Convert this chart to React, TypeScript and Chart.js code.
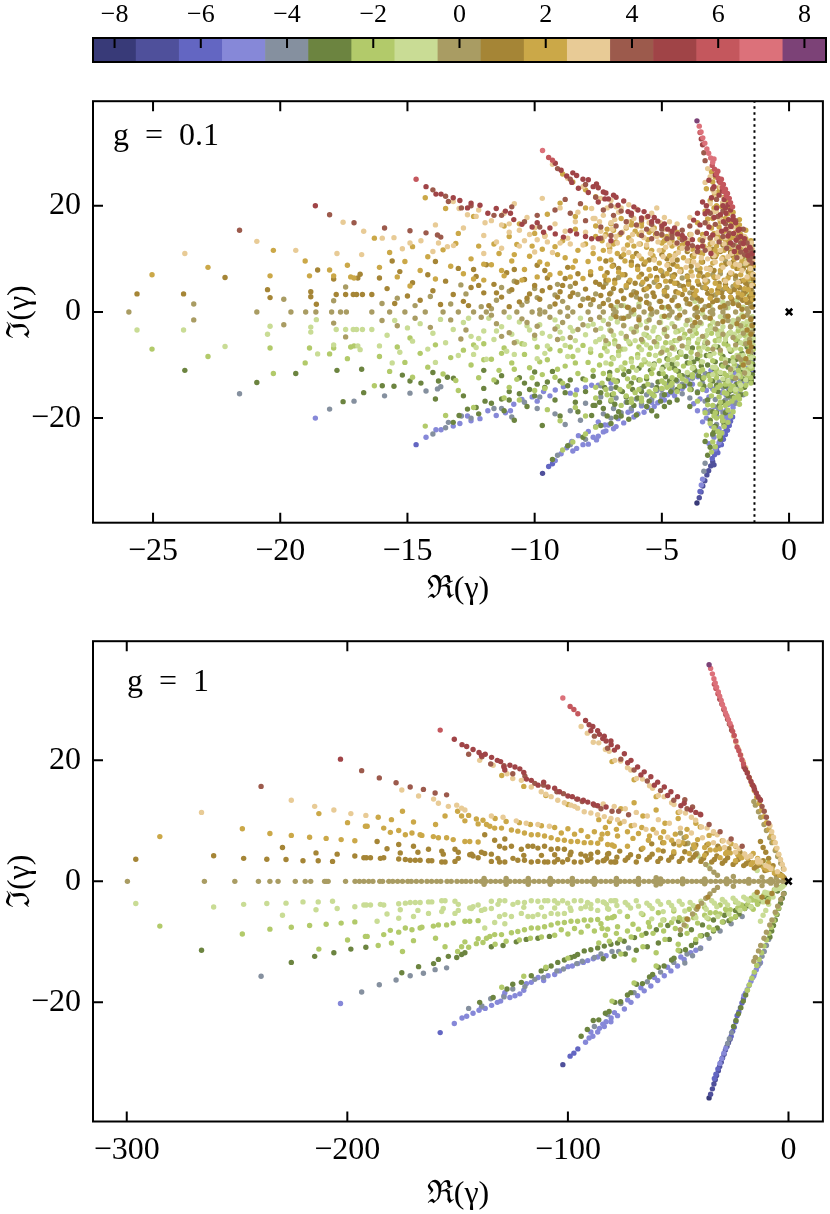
import { useEffect, useRef } from "react";
import { Chart, registerables } from "chart.js";

Chart.register(...registerables);

// ---------- colour scale (sector k) ----------
const kValues = [-8, -7, -6, -5, -4, -3, -2, -1, 0, 1, 2, 3, 4, 5, 6, 7, 8];
const kColors = ["#383a78", "#4f509b", "#6366c2", "#8688d8", "#85909f", "#6c8440", "#b2ca6a", "#c9dc95", "#a99c63", "#a58536", "#cba848", "#e8cb96", "#9c5a4c", "#a04447", "#c4575d", "#dc717a", "#7c4277"];
const colorbarTicks = [-8, -6, -4, -2, 0, 2, 4, 6, 8];
const topXTicks = [-25, -20, -15, -10, -5, 0];
const bottomXTicks = [-300, -200, -100, 0];
const yTicks = [-20, 0, 20];
const topXRange = [-27.36, 1.33];
const bottomXRange = [-315.3, 15.6];
const yRange = [-39.7, 39.7];
const topGapLine = -1.36;
const steadyState = [0, 0];
const topLabel = "g\u2002=\u20020.1";
const bottomLabel = "g\u2002=\u20021";

// ---------- g = 0.1 spectrum, [Re, Im] pairs per sector ----------
const topK0 = [-25.95,0,-23.4,1.5,-23.4,-1.5,-20.92,0,-19.86,2.4,-19.86,-2.4,-19.58,0,-19.0,0,-18.6,0,-17.98,0,-17.63,0,-17.4,0,-17.9,2.1,-17.9,-2.1,-17.43,4.7,-17.43,-4.7,
-16.4,0,-15.7,0,-15.1,0,-14.3,0,-13.6,0,-13.0,0,-12.4,0,-11.9,0,-11.2,0,-10.7,0,-10.1,0,-9.6,0,-9.0,0,-8.5,0,-7.9,0,
-16.0,1.6,-16.0,-1.6,-15.4,2.6,-15.4,-2.6,-14.7,1.2,-14.7,-1.2,-14.1,2.9,-14.1,-2.9,-13.3,1.5,-13.3,-1.5,-12.7,3.4,-12.7,-3.4,-12.1,1.0,-12.1,-1.0,-11.5,2.2,-11.5,-2.2,-11.0,3.9,-11.0,-3.9,-10.5,1.3,-10.5,-1.3,-9.9,2.7,-9.9,-2.7,-9.4,1.0,-9.4,-1.0,-8.9,2.0,-8.9,-2.0,-8.3,3.3,-8.3,-3.3,-7.8,1.4,-7.8,-1.4,-12.9,5.1,-12.9,-5.1,-10.8,5.8,-10.8,-5.8,-9.1,5.2,-9.1,-5.2,
-7.3,0,-6.8,0,-6.2,0,-5.7,0,-5.2,0,-4.6,0,-4.1,0,-3.6,0,-3.1,0,-2.6,0,-2.1,0,-1.6,0,
-7.1,2.3,-7.1,-2.3,-6.6,1.2,-6.6,-1.2,-6.4,4.6,-6.4,-4.6,-6.0,2.8,-6.0,-2.8,-5.5,1.5,-5.5,-1.5,-5.3,5.6,-5.3,-5.6,-4.9,3.3,-4.9,-3.3,-4.4,1.1,-4.4,-1.1,-4.2,6.4,-4.2,-6.4,-3.8,2.6,-3.8,-2.6,-3.4,4.6,-3.4,-4.6,-3.3,1.0,-3.3,-1.0,-2.9,3.2,-2.9,-3.2,-2.7,7.2,-2.7,-7.2,-2.4,1.6,-2.4,-1.6,-2.2,4.8,-2.2,-4.8,-1.9,2.6,-1.9,-2.6,-1.7,6.0,-1.7,-6.0,-1.5,1.2,-1.5,-1.2,-1.45,3.8,-1.45,-3.8,-2.0,8.5,-2.0,-8.5,-3.6,8.0,-3.6,-8.0,-5.0,7.6,-5.0,-7.6,-6.7,6.5,-6.7,-6.5,-1.6,9.5,-1.6,-9.5,-2.3,10.8,-2.3,-10.8];
const topK0x = [-7.45,1.0,-7.45,-1.0,-7.0,3.6,-7.0,-3.6,-6.9,0.5,-6.9,-0.5,-6.5,2.6,-6.5,-2.6,-6.3,0.8,-6.3,-0.8,-6.1,3.8,-6.1,-3.8,-5.9,1.0,-5.9,-1.0,-5.6,3.0,-5.6,-3.0,-5.4,0.4,-5.4,-0.4,-5.1,2.0,-5.1,-2.0,-4.8,4.6,-4.8,-4.6,-4.7,0.6,-4.7,-0.6,-4.5,2.8,-4.5,-2.8,-4.3,5.0,-4.3,-5.0,-4.0,1.6,-4.0,-1.6,-3.9,3.6,-3.9,-3.6,-3.7,0.6,-3.7,-0.6,-3.5,2.0,-3.5,-2.0,-3.2,5.8,-3.2,-5.8,-3.0,0.4,-3.0,-0.4,-2.8,2.2,-2.8,-2.2,-2.6,4.2,-2.6,-4.2,-2.5,0.8,-2.5,-0.8,-2.3,2.8,-2.3,-2.8,-2.1,6.2,-2.1,-6.2,-2.0,1.4,-2.0,-1.4,-1.8,4.0,-1.8,-4.0,-1.65,0.6,-1.65,-0.6,-1.55,5.2,-1.55,-5.2,-1.45,2.4,-1.45,-2.4,-1.5,7.5,-1.5,-7.5,-1.9,9.0,-1.9,-9.0,-2.5,9.6,-2.5,-9.6,-3.0,7.0,-3.0,-7.0,-4.6,6.8,-4.6,-6.8,-5.8,5.2,-5.8,-5.2,-7.2,5.4,-7.2,-5.4,-1.75,11.5,-1.75,-11.5,-2.1,12.5,-2.1,-12.5,
-11.7,0.6,-11.7,-0.6,-10.3,2.0,-10.3,-2.0,-9.8,0.4,-9.8,-0.4,-9.2,3.2,-9.2,-3.2,-8.7,0.8,-8.7,-0.8,-8.1,2.4,-8.1,-2.4,-7.6,3.4,-7.6,-3.4,-10.0,4.4,-10.0,-4.4,-8.6,4.8,-8.6,-4.8,-11.3,4.6,-11.3,-4.6];

const topK1 = [-25.63,3.4,-23.8,3.4,-22.17,6.5,-20.5,4.2,-20.4,2.7,-18.53,7.9,-18.8,3.8,-18.8,2.85,-18.58,1.45,-17.9,6.2,-17.8,3.3,-17.43,3.3,-17.13,3.3,-17.0,3.3,-16.77,3.3,-16.95,6.4,-16.86,7.1,
-16.4,3.3,-16.1,6.4,-15.8,4.4,-15.5,1.6,-15.3,7.6,-15.0,3.0,-14.8,5.5,-14.5,2.2,-14.2,7.0,-14.0,4.0,-13.7,1.4,-13.5,5.8,-13.2,3.3,-13.0,8.2,-12.8,2.0,-12.5,4.6,-12.3,6.7,-12.0,3.6,-11.8,1.2,-11.6,5.2,-11.3,2.8,-11.1,7.4,-10.9,4.2,-10.6,1.9,-10.4,6.1,-10.2,3.4,-10.0,5.0,-9.8,2.4,-9.6,7.8,-9.4,4.6,-9.2,1.5,-9.0,3.8,-8.8,6.3,-8.6,2.9,-8.4,5.4,-8.2,1.2,-8.0,4.3,-7.8,7.0,-7.7,2.3,-9.9,8.8,-11.9,8.9,-13.9,9.5,-15.6,9.6,
-7.4,3.1,-7.2,6.0,-7.0,1.2,-6.9,4.4,-6.7,8.2,-6.5,2.5,-6.3,5.6,-6.1,0.4,-6.0,3.6,-5.8,7.1,-5.6,1.8,-5.5,4.8,-5.3,2.9,-5.2,6.5,-5.0,0.9,-4.9,4.0,-4.7,8.0,-4.6,2.2,-4.4,5.4,-4.3,-0.6,-4.2,3.3,-4.0,6.8,-3.9,1.5,-3.8,4.5,-3.6,2.6,-3.5,7.4,-3.4,0.4,-3.3,5.6,-3.2,3.5,-3.1,-1.2,-3.0,1.9,-2.9,6.4,-2.8,4.2,-2.7,0.9,-2.6,2.8,-2.5,5.2,-2.4,-0.8,-2.3,3.8,-2.2,1.6,-2.1,6.8,-2.0,2.8,-1.95,4.6,-1.85,0.5,-1.8,3.4,-1.7,5.4,-1.65,1.8,-1.55,2.9,-1.5,4.3,-1.45,0.9,-1.42,6.2,-1.5,-1.4,-1.6,7.6,-5.9,-1.5,-6.8,-0.9,-3.7,-2.0,-2.05,-2.2,-7.3,4.7,-4.5,7.0,-3.1,8.3,-5.7,9.0,-2.0,12.0,-1.8,10.5,-2.3,11.3,-2.6,12.6];
const topKm1 = [-25.63,-3.4,-23.8,-3.4,-22.17,-6.5,-20.5,-4.2,-20.4,-2.7,-18.53,-7.9,-18.8,-3.8,-18.8,-2.85,-18.58,-1.45,-17.9,-6.2,-17.8,-3.3,-17.43,-3.3,-17.13,-3.3,-17.0,-3.3,-16.77,-3.3,-16.95,-6.4,-16.86,-7.1,
-16.4,-3.3,-16.1,-6.4,-15.8,-4.4,-15.5,-1.6,-15.3,-7.6,-15.0,-3.0,-14.8,-5.5,-14.5,-2.2,-14.2,-7.0,-14.0,-4.0,-13.7,-1.4,-13.5,-5.8,-13.2,-3.3,-13.0,-8.2,-12.8,-2.0,-12.5,-4.6,-12.3,-6.7,-12.0,-3.6,-11.8,-1.2,-11.6,-5.2,-11.3,-2.8,-11.1,-7.4,-10.9,-4.2,-10.6,-1.9,-10.4,-6.1,-10.2,-3.4,-10.0,-5.0,-9.8,-2.4,-9.6,-7.8,-9.4,-4.6,-9.2,-1.5,-9.0,-3.8,-8.8,-6.3,-8.6,-2.9,-8.4,-5.4,-8.2,-1.2,-8.0,-4.3,-7.8,-7.0,-7.7,-2.3,-9.9,-8.8,-11.9,-8.9,-13.9,-9.5,-15.6,-9.6,
-7.4,-3.1,-7.2,-6.0,-7.0,-1.2,-6.9,-4.4,-6.7,-8.2,-6.5,-2.5,-6.3,-5.6,-6.1,-0.4,-6.0,-3.6,-5.8,-7.1,-5.6,-1.8,-5.5,-4.8,-5.3,-2.9,-5.2,-6.5,-5.0,-0.9,-4.9,-4.0,-4.7,-8.0,-4.6,-2.2,-4.4,-5.4,-4.3,0.6,-4.2,-3.3,-4.0,-6.8,-3.9,-1.5,-3.8,-4.5,-3.6,-2.6,-3.5,-7.4,-3.4,-0.4,-3.3,-5.6,-3.2,-3.5,-3.1,1.2,-3.0,-1.9,-2.9,-6.4,-2.8,-4.2,-2.7,-0.9,-2.6,-2.8,-2.5,-5.2,-2.4,0.8,-2.3,-3.8,-2.2,-1.6,-2.1,-6.8,-2.0,-2.8,-1.95,-4.6,-1.85,-0.5,-1.8,-3.4,-1.7,-5.4,-1.65,-1.8,-1.55,-2.9,-1.5,-4.3,-1.45,-0.9,-1.42,-6.2,-1.5,1.4,-1.6,-7.6,-5.9,1.5,-6.8,0.9,-3.7,2.0,-2.05,2.2,-7.3,-4.7,-4.5,-7.0,-3.1,-8.3,-5.7,-9.0,-2.0,-12.0,-1.8,-10.5,-2.3,-11.3,-2.6,-12.6];
const topK1x = [-7.45,5.2,-7.3,1.6,-7.15,7.4,-7.05,3.4,-6.85,6.0,-6.75,1.9,-6.6,4.0,-6.45,7.0,-6.35,0.9,-6.2,3.2,-6.05,5.4,-5.95,8.6,-5.85,2.4,-5.7,4.2,-5.6,6.2,-5.45,0.6,-5.35,3.6,-5.25,8.2,-5.1,5.0,-5.05,2.0,-4.95,6.8,-4.8,3.0,-4.75,1.0,-4.65,5.8,-4.55,9.0,-4.45,3.8,-4.35,1.2,-4.25,7.6,-4.15,4.8,-4.05,2.4,-3.95,5.8,-3.85,8.6,-3.75,3.4,-3.65,0.8,-3.55,5.2,-3.45,2.2,-3.35,6.6,-3.25,4.4,-3.15,1.2,-3.05,3.0,-2.95,7.8,-2.85,2.2,-2.75,5.4,-2.65,3.6,-2.55,1.2,-2.45,4.4,-2.35,7.0,-2.25,2.4,-2.15,4.2,-2.05,8.2,-1.98,1.2,-1.9,5.8,-1.82,2.2,-1.72,3.8,-1.62,8.8,-1.58,4.8,-1.52,2.0,-1.46,6.8,-1.43,3.2,-1.41,5.0,-3.6,-1.0,-4.9,-0.8,-2.6,-1.8,-1.8,-0.9,-6.5,-1.2,-5.3,10.0,-3.8,10.6,-2.9,10.4,-1.6,9.8,
-12.6,1.2,-12.2,5.0,-11.5,3.6,-11.0,1.0,-10.7,5.6,-10.3,2.6,-9.7,4.0,-9.5,6.4,-9.1,2.8,-8.9,5.0,-8.5,3.6,-8.3,7.2,-7.9,2.6,-7.6,5.6,-8.7,8.4,-10.8,8.0,-12.4,8.0,
-7.2,9.6,-6.6,10.4,-6.0,11.0,-5.5,9.8,-5.0,10.8,-4.4,9.8,-4.0,11.4,-3.4,9.4,-3.0,11.8,-2.5,9.0,-2.2,10.6,-1.7,11.2,-1.45,8.6,-6.9,8.8,-6.2,9.4,-4.8,10.0,-1.45,-2.6,-1.5,-4.2,-1.55,-5.8,-1.6,-7.4,-1.7,-8.8,-1.8,-10.0,-1.48,-6.6,-1.65,-3.4,
-1.5,10.2,-1.7,12.8,-1.9,13.8,-2.1,14.6,-1.6,11.6,-2.4,13.0,-2.7,11.4,-3.0,10.4,-2.2,9.4,-1.8,8.2];
const topKm1x = [-7.45,-5.2,-7.3,-1.6,-7.15,-7.4,-7.05,-3.4,-6.85,-6.0,-6.75,-1.9,-6.6,-4.0,-6.45,-7.0,-6.35,-0.9,-6.2,-3.2,-6.05,-5.4,-5.95,-8.6,-5.85,-2.4,-5.7,-4.2,-5.6,-6.2,-5.45,-0.6,-5.35,-3.6,-5.25,-8.2,-5.1,-5.0,-5.05,-2.0,-4.95,-6.8,-4.8,-3.0,-4.75,-1.0,-4.65,-5.8,-4.55,-9.0,-4.45,-3.8,-4.35,-1.2,-4.25,-7.6,-4.15,-4.8,-4.05,-2.4,-3.95,-5.8,-3.85,-8.6,-3.75,-3.4,-3.65,-0.8,-3.55,-5.2,-3.45,-2.2,-3.35,-6.6,-3.25,-4.4,-3.15,-1.2,-3.05,-3.0,-2.95,-7.8,-2.85,-2.2,-2.75,-5.4,-2.65,-3.6,-2.55,-1.2,-2.45,-4.4,-2.35,-7.0,-2.25,-2.4,-2.15,-4.2,-2.05,-8.2,-1.98,-1.2,-1.9,-5.8,-1.82,-2.2,-1.72,-3.8,-1.62,-8.8,-1.58,-4.8,-1.52,-2.0,-1.46,-6.8,-1.43,-3.2,-1.41,-5.0,-3.6,1.0,-4.9,0.8,-2.6,1.8,-1.8,0.9,-6.5,1.2,-5.3,-10.0,-3.8,-10.6,-2.9,-10.4,-1.6,-9.8,
-12.6,-1.2,-12.2,-5.0,-11.5,-3.6,-11.0,-1.0,-10.7,-5.6,-10.3,-2.6,-9.7,-4.0,-9.5,-6.4,-9.1,-2.8,-8.9,-5.0,-8.5,-3.6,-8.3,-7.2,-7.9,-2.6,-7.6,-5.6,-8.7,-8.4,-10.8,-8.0,-12.4,-8.0,
-7.2,-9.6,-6.6,-10.4,-6.0,-11.0,-5.5,-9.8,-5.0,-10.8,-4.4,-9.8,-4.0,-11.4,-3.4,-9.4,-3.0,-11.8,-2.5,-9.0,-2.2,-10.6,-1.7,-11.2,-1.45,-8.6,-6.9,-8.8,-6.2,-9.4,-4.8,-10.0,-1.45,2.6,-1.5,4.2,-1.55,5.8,-1.6,7.4,-1.7,8.8,-1.8,10.0,-1.48,6.6,-1.65,3.4,
-1.5,-10.2,-1.7,-12.8,-1.9,-13.8,-2.1,-14.6,-1.6,-11.6,-2.4,-13.0,-2.7,-11.4,-3.0,-10.4,-2.2,-9.4,-1.8,-8.2];

const topK2 = [-25.04,7.0,-22.84,8.4,-20.27,11.6,-20.4,6.8,-19.02,9.6,-18.85,6.8,-18.06,7.9,-17.9,6.8,-17.36,8.8,-17.23,6.6,-17.1,6.4,
-16.3,13.9,-16.1,8.4,-15.7,11.2,-15.4,6.6,-15.1,9.5,-14.8,12.3,-14.5,7.8,-14.2,10.4,-13.9,6.2,-13.6,11.7,-13.3,8.6,-13.1,12.9,-12.8,7.2,-12.5,10.0,-12.2,12.4,-12.0,6.0,-11.7,8.9,-11.4,11.0,-11.2,6.8,-10.9,9.6,-10.7,12.7,-10.4,8.0,-10.2,10.5,-9.9,6.6,-9.7,11.8,-9.5,9.0,-9.2,12.3,-9.0,7.3,-8.8,10.2,-8.5,8.4,-8.3,11.6,-8.1,6.3,-7.9,9.5,-7.7,11.0,-11.0,14.2,-13.0,14.8,-14.9,4.9,
-7.4,8.2,-7.3,11.6,-7.1,6.0,-7.0,9.8,-6.8,13.2,-6.7,7.5,-6.5,10.8,-6.4,5.0,-6.2,8.8,-6.1,12.4,-5.9,6.6,-5.8,10.0,-5.6,4.4,-5.5,8.0,-5.4,11.6,-5.2,6.0,-5.1,9.2,-4.9,3.8,-4.8,7.2,-4.7,10.6,-4.5,5.4,-4.4,8.6,-4.3,12.0,-4.1,4.2,-4.0,6.6,-3.9,9.6,-3.7,3.2,-3.6,5.8,-3.5,8.2,-3.4,10.9,-3.3,4.6,-3.2,7.0,-3.1,2.6,-3.0,9.2,-2.9,5.4,-2.8,3.6,-2.7,7.8,-2.6,10.2,-2.5,4.6,-2.4,6.4,-2.3,2.8,-2.2,8.6,-2.1,5.2,-2.0,3.6,-1.9,7.0,-1.85,9.6,-1.75,4.4,-1.7,2.4,-1.6,6.2,-1.55,8.0,-1.48,3.4,-1.44,5.2,-1.42,7.1,-7.2,14.6,-6.3,14.0,-5.0,13.0,-3.8,12.2,-2.9,11.6,-2.0,11.0,-1.5,9.6,
-3.0,24.5,-2.8,22.5,-2.6,20.5,-2.4,18.5,-2.25,16.8,-2.1,15.0,-1.95,13.4,-3.1,21.0,-2.9,19.0,-2.7,17.0,-2.55,15.2,-2.35,13.6,-3.2,17.5,-2.95,14.8,
-7.6,16.2,-6.9,15.4,-8.4,18.0,-9.0,20.5,-8.0,19.6,-6.2,16.4,-5.5,15.0,-4.8,14.2,
-13.5,19.5,-12.4,18.0,-11.2,16.2,-10.0,14.8,-14.3,21.5,
-8.9,26.0,-8.5,24.5,-8.0,23.0,-7.6,21.7];
const topKm2 = [-25.04,-7.0,-22.84,-8.4,-20.27,-11.6,-20.4,-6.8,-19.02,-9.6,-18.85,-6.8,-18.06,-7.9,-17.9,-6.8,-17.36,-8.8,-17.23,-6.6,-17.1,-6.4,
-16.3,-13.9,-16.1,-8.4,-15.7,-11.2,-15.4,-6.6,-15.1,-9.5,-14.8,-12.3,-14.5,-7.8,-14.2,-10.4,-13.9,-6.2,-13.6,-11.7,-13.3,-8.6,-13.1,-12.9,-12.8,-7.2,-12.5,-10.0,-12.2,-12.4,-12.0,-6.0,-11.7,-8.9,-11.4,-11.0,-11.2,-6.8,-10.9,-9.6,-10.7,-12.7,-10.4,-8.0,-10.2,-10.5,-9.9,-6.6,-9.7,-11.8,-9.5,-9.0,-9.2,-12.3,-9.0,-7.3,-8.8,-10.2,-8.5,-8.4,-8.3,-11.6,-8.1,-6.3,-7.9,-9.5,-7.7,-11.0,-11.0,-14.2,-13.0,-14.8,-14.9,-4.9,
-7.4,-8.2,-7.3,-11.6,-7.1,-6.0,-7.0,-9.8,-6.8,-13.2,-6.7,-7.5,-6.5,-10.8,-6.4,-5.0,-6.2,-8.8,-6.1,-12.4,-5.9,-6.6,-5.8,-10.0,-5.6,-4.4,-5.5,-8.0,-5.4,-11.6,-5.2,-6.0,-5.1,-9.2,-4.9,-3.8,-4.8,-7.2,-4.7,-10.6,-4.5,-5.4,-4.4,-8.6,-4.3,-12.0,-4.1,-4.2,-4.0,-6.6,-3.9,-9.6,-3.7,-3.2,-3.6,-5.8,-3.5,-8.2,-3.4,-10.9,-3.3,-4.6,-3.2,-7.0,-3.1,-2.6,-3.0,-9.2,-2.9,-5.4,-2.8,-3.6,-2.7,-7.8,-2.6,-10.2,-2.5,-4.6,-2.4,-6.4,-2.3,-2.8,-2.2,-8.6,-2.1,-5.2,-2.0,-3.6,-1.9,-7.0,-1.85,-9.6,-1.75,-4.4,-1.7,-2.4,-1.6,-6.2,-1.55,-8.0,-1.48,-3.4,-1.44,-5.2,-1.42,-7.1,-7.2,-14.6,-6.3,-14.0,-5.0,-13.0,-3.8,-12.2,-2.9,-11.6,-2.0,-11.0,-1.5,-9.6,
-3.0,-24.5,-2.8,-22.5,-2.6,-20.5,-2.4,-18.5,-2.25,-16.8,-2.1,-15.0,-1.95,-13.4,-3.1,-21.0,-2.9,-19.0,-2.7,-17.0,-2.55,-15.2,-2.35,-13.6,-3.2,-17.5,-2.95,-14.8,
-7.6,-16.2,-6.9,-15.4,-8.4,-18.0,-9.0,-20.5,-8.0,-19.6,-6.2,-16.4,-5.5,-15.0,-4.8,-14.2,
-13.5,-19.5,-12.4,-18.0,-11.2,-16.2,-10.0,-14.8,-14.3,-21.5,
-8.9,-26.0,-8.5,-24.5,-8.0,-23.0,-7.6,-21.7];
const topK2x = [-7.45,10.0,-7.35,13.4,-7.25,6.8,-7.15,15.6,-7.05,12.0,-6.95,8.6,-6.85,5.4,-6.75,11.0,-6.65,14.6,-6.55,7.0,-6.45,9.6,-6.35,12.6,-6.25,6.0,-6.15,10.4,-6.05,15.2,-5.95,8.0,-5.85,12.8,-5.75,5.6,-5.65,9.4,-5.55,13.6,-5.45,6.8,-5.35,10.6,-5.25,14.6,-5.15,4.8,-5.05,7.8,-4.95,11.6,-4.85,5.8,-4.75,9.0,-4.65,13.8,-4.55,6.6,-4.45,11.0,-4.35,3.6,-4.25,8.0,-4.15,10.2,-4.05,13.0,-3.95,5.2,-3.85,7.6,-3.75,10.4,-3.65,4.0,-3.55,6.8,-3.45,9.4,-3.35,12.4,-3.25,5.6,-3.15,8.2,-3.05,4.0,-2.95,6.6,-2.85,10.8,-2.75,4.8,-2.65,8.8,-2.55,6.0,-2.45,12.0,-2.35,4.0,-2.25,7.2,-2.15,10.0,-2.05,5.0,-1.95,8.2,-1.85,3.2,-1.78,6.0,-1.68,9.2,-1.6,4.2,-1.52,7.0,-1.46,10.6,-1.43,2.4,-1.41,8.6,-1.5,12.4,-1.7,13.8,-1.95,16.4,-2.3,19.6,-2.65,22.8,-2.5,17.6,-2.85,20.0,-3.25,23.2,-4.4,15.0,-5.8,16.8,-6.6,17.6,
-12.4,6.2,-12.0,9.0,-11.6,12.8,-11.3,7.8,-10.8,10.8,-10.5,6.0,-10.1,12.4,-9.8,9.4,-9.4,7.0,-9.1,10.8,-8.9,13.4,-8.6,6.6,-8.4,9.6,-8.0,12.8,-7.8,7.6,-7.6,14.2,-9.6,14.4,-8.4,15.6,-10.6,16.6,-9.5,18.4,
-7.0,16.6,-6.4,15.8,-5.9,14.6,-5.3,15.8,-4.9,13.4,-4.3,14.0,-3.9,14.6,-3.5,13.6,-3.1,12.8,-2.7,13.8,-2.3,14.6,-1.9,12.2,-1.6,10.8,-4.6,12.4,-5.6,12.2,-6.9,12.8,-2.0,15.8,
-3.15,12.0,-2.85,12.4,-2.55,11.6,-2.25,12.2,-1.95,11.6,-1.65,12.0,-1.5,13.4,-3.1,13.8,-2.8,14.2,-2.5,13.6,-2.2,14.0,-1.9,14.6,-1.7,15.4,-3.05,15.8,-2.75,16.0,-2.45,15.4,-2.15,16.2,-1.95,17.4,-3.0,17.6,-2.7,18.0,-2.4,17.2,-2.2,18.8,-2.95,19.6,-2.65,19.8,-2.4,20.8,-2.55,21.6,-2.95,21.8,-2.75,23.4,-2.9,25.4,-3.05,26.4,-4.6,13.4,-4.2,12.6,-3.8,11.8,-3.5,11.2,-5.0,14.4,-5.4,15.4,-5.8,16.2,-6.2,17.0,-3.4,14.6,-3.6,16.8,-3.3,19.0];
const topKm2x = [-7.45,-10.0,-7.35,-13.4,-7.25,-6.8,-7.15,-15.6,-7.05,-12.0,-6.95,-8.6,-6.85,-5.4,-6.75,-11.0,-6.65,-14.6,-6.55,-7.0,-6.45,-9.6,-6.35,-12.6,-6.25,-6.0,-6.15,-10.4,-6.05,-15.2,-5.95,-8.0,-5.85,-12.8,-5.75,-5.6,-5.65,-9.4,-5.55,-13.6,-5.45,-6.8,-5.35,-10.6,-5.25,-14.6,-5.15,-4.8,-5.05,-7.8,-4.95,-11.6,-4.85,-5.8,-4.75,-9.0,-4.65,-13.8,-4.55,-6.6,-4.45,-11.0,-4.35,-3.6,-4.25,-8.0,-4.15,-10.2,-4.05,-13.0,-3.95,-5.2,-3.85,-7.6,-3.75,-10.4,-3.65,-4.0,-3.55,-6.8,-3.45,-9.4,-3.35,-12.4,-3.25,-5.6,-3.15,-8.2,-3.05,-4.0,-2.95,-6.6,-2.85,-10.8,-2.75,-4.8,-2.65,-8.8,-2.55,-6.0,-2.45,-12.0,-2.35,-4.0,-2.25,-7.2,-2.15,-10.0,-2.05,-5.0,-1.95,-8.2,-1.85,-3.2,-1.78,-6.0,-1.68,-9.2,-1.6,-4.2,-1.52,-7.0,-1.46,-10.6,-1.43,-2.4,-1.41,-8.6,-1.5,-12.4,-1.7,-13.8,-1.95,-16.4,-2.3,-19.6,-2.65,-22.8,-2.5,-17.6,-2.85,-20.0,-3.25,-23.2,-4.4,-15.0,-5.8,-16.8,-6.6,-17.6,
-12.4,-6.2,-12.0,-9.0,-11.6,-12.8,-11.3,-7.8,-10.8,-10.8,-10.5,-6.0,-10.1,-12.4,-9.8,-9.4,-9.4,-7.0,-9.1,-10.8,-8.9,-13.4,-8.6,-6.6,-8.4,-9.6,-8.0,-12.8,-7.8,-7.6,-7.6,-14.2,-9.6,-14.4,-8.4,-15.6,-10.6,-16.6,-9.5,-18.4,
-7.0,-16.6,-6.4,-15.8,-5.9,-14.6,-5.3,-15.8,-4.9,-13.4,-4.3,-14.0,-3.9,-14.6,-3.5,-13.6,-3.1,-12.8,-2.7,-13.8,-2.3,-14.6,-1.9,-12.2,-1.6,-10.8,-4.6,-12.4,-5.6,-12.2,-6.9,-12.8,-2.0,-15.8,
-3.15,-12.0,-2.85,-12.4,-2.55,-11.6,-2.25,-12.2,-1.95,-11.6,-1.65,-12.0,-1.5,-13.4,-3.1,-13.8,-2.8,-14.2,-2.5,-13.6,-2.2,-14.0,-1.9,-14.6,-1.7,-15.4,-3.05,-15.8,-2.75,-16.0,-2.45,-15.4,-2.15,-16.2,-1.95,-17.4,-3.0,-17.6,-2.7,-18.0,-2.4,-17.2,-2.2,-18.8,-2.95,-19.6,-2.65,-19.8,-2.4,-20.8,-2.55,-21.6,-2.95,-21.8,-2.75,-23.4,-2.9,-25.4,-3.05,-26.4,-4.6,-13.4,-4.2,-12.6,-3.8,-11.8,-3.5,-11.2,-5.0,-14.4,-5.4,-15.4,-5.8,-16.2,-6.2,-17.0,-3.4,-14.6,-3.6,-16.8,-3.3,-19.0];

const topK3 = [-23.75,11.0,-20.92,13.3,-19.39,11.6,-17.53,16.9,-16.72,15.2,-17.77,11.0,-16.8,10.8,
-15.99,13.9,-15.53,14.0,-14.47,13.4,-13.78,13.0,-13.43,12.3,-13.19,12.5,-12.97,19.5,-12.64,18.3,-12.3,18.0,-11.95,16.8,-11.7,17.2,-11.3,16.4,-11.0,16.6,-10.6,15.4,-10.2,14.6,-9.9,13.6,-9.5,13.2,-9.0,13.0,-8.6,12.8,-8.1,12.6,-7.7,12.1,-15.2,11.9,-14.0,11.4,-12.0,11.0,-11.3,12.0,-10.6,12.4,-10.0,11.3,-9.3,11.2,-8.7,13.9,-12.8,15.8,-13.9,16.4,-14.9,13.0,
-7.4,15.2,-7.3,18.2,-7.1,12.6,-7.0,16.8,-6.8,14.2,-6.7,18.8,-6.5,11.8,-6.4,16.0,-6.2,13.4,-6.1,17.6,-5.9,10.6,-5.8,15.0,-5.6,12.6,-5.5,16.8,-5.3,9.8,-5.2,14.2,-5.1,11.6,-4.9,15.6,-4.8,8.8,-4.7,13.0,-4.5,10.6,-4.4,14.6,-4.3,7.6,-4.2,12.0,-4.0,9.6,-3.9,13.6,-3.8,6.8,-3.7,11.0,-3.6,8.8,-3.4,12.6,-3.3,6.0,-3.2,10.0,-3.1,8.0,-3.0,13.0,-2.9,9.4,-2.8,6.6,-2.7,11.6,-2.6,8.4,-2.5,5.8,-2.4,10.4,-2.3,7.4,-2.2,12.4,-2.1,9.0,-2.0,5.6,-1.9,10.4,-1.85,7.8,-1.8,12.6,-1.7,9.2,-1.65,6.6,-1.58,11.0,-1.52,8.2,-1.46,5.0,-1.43,9.8,-1.42,7.0,-6.0,19.4,-5.4,18.6,-4.9,17.8,-4.4,16.6,-3.6,15.2,-3.2,16.6,-2.8,15.0,-2.5,14.0,-1.75,14.2,
-7.76,19.5,-7.63,17.6,-2.9,21.5,-2.5,19.0,-2.2,16.0,-2.7,23.5,-3.0,18.8,-3.1,25.5,-3.2,27.0,-3.0,23.0,
-9.3,27.8,-8.7,25.2,-8.1,23.6,-7.4,21.4,-6.8,19.8,-13.2,20.8,-12.2,19.2];
const topKm3 = [-23.75,-11.0,-20.92,-13.3,-19.39,-11.6,-17.53,-16.9,-16.72,-15.2,-17.77,-11.0,-16.8,-10.8,
-15.99,-13.9,-15.53,-14.0,-14.47,-13.4,-13.78,-13.0,-13.43,-12.3,-13.19,-12.5,-12.97,-19.5,-12.64,-18.3,-12.3,-18.0,-11.95,-16.8,-11.7,-17.2,-11.3,-16.4,-11.0,-16.6,-10.6,-15.4,-10.2,-14.6,-9.9,-13.6,-9.5,-13.2,-9.0,-13.0,-8.6,-12.8,-8.1,-12.6,-7.7,-12.1,-15.2,-11.9,-14.0,-11.4,-12.0,-11.0,-11.3,-12.0,-10.6,-12.4,-10.0,-11.3,-9.3,-11.2,-8.7,-13.9,-12.8,-15.8,-13.9,-16.4,-14.9,-13.0,
-7.4,-15.2,-7.3,-18.2,-7.1,-12.6,-7.0,-16.8,-6.8,-14.2,-6.7,-18.8,-6.5,-11.8,-6.4,-16.0,-6.2,-13.4,-6.1,-17.6,-5.9,-10.6,-5.8,-15.0,-5.6,-12.6,-5.5,-16.8,-5.3,-9.8,-5.2,-14.2,-5.1,-11.6,-4.9,-15.6,-4.8,-8.8,-4.7,-13.0,-4.5,-10.6,-4.4,-14.6,-4.3,-7.6,-4.2,-12.0,-4.0,-9.6,-3.9,-13.6,-3.8,-6.8,-3.7,-11.0,-3.6,-8.8,-3.4,-12.6,-3.3,-6.0,-3.2,-10.0,-3.1,-8.0,-3.0,-13.0,-2.9,-9.4,-2.8,-6.6,-2.7,-11.6,-2.6,-8.4,-2.5,-5.8,-2.4,-10.4,-2.3,-7.4,-2.2,-12.4,-2.1,-9.0,-2.0,-5.6,-1.9,-10.4,-1.85,-7.8,-1.8,-12.6,-1.7,-9.2,-1.65,-6.6,-1.58,-11.0,-1.52,-8.2,-1.46,-5.0,-1.43,-9.8,-1.42,-7.0,-6.0,-19.4,-5.4,-18.6,-4.9,-17.8,-4.4,-16.6,-3.6,-15.2,-3.2,-16.6,-2.8,-15.0,-2.5,-14.0,-1.75,-14.2,
-7.76,-19.5,-7.63,-17.6,-2.9,-21.5,-2.5,-19.0,-2.2,-16.0,-2.7,-23.5,-3.0,-18.8,-3.1,-25.5,-3.2,-27.0,-3.0,-23.0,
-9.3,-27.8,-8.7,-25.2,-8.1,-23.6,-7.4,-21.4,-6.8,-19.8,-13.2,-20.8,-12.2,-19.2];
const topK3x = [-7.45,17.0,-7.25,14.2,-7.15,19.6,-7.05,11.4,-6.95,15.6,-6.85,17.4,-6.75,13.0,-6.6,19.6,-6.55,15.0,-6.35,17.0,-6.3,11.2,-6.15,14.6,-5.95,16.2,-5.9,12.8,-5.7,14.0,-5.6,17.8,-5.45,11.0,-5.35,15.6,-5.15,13.2,-5.05,16.8,-4.95,10.4,-4.85,12.2,-4.65,15.0,-4.6,9.8,-4.45,12.8,-4.35,11.2,-4.15,14.0,-4.05,8.4,-3.95,11.8,-3.85,14.6,-3.75,9.4,-3.55,12.0,-3.45,10.2,-3.35,14.0,-3.25,8.2,-3.15,11.8,-2.95,10.6,-2.85,13.8,-2.65,10.0,-2.55,12.8,-2.35,9.2,-2.25,11.0,-2.05,13.6,-1.95,8.8,-1.8,11.0,-1.65,12.6,-1.55,9.6,-1.48,13.0,-1.44,11.8,-2.4,15.8,-2.15,14.8,-1.9,15.6,-2.75,17.6,-2.6,20.6,-2.95,22.6,-3.3,24.4,-3.9,17.8,-4.7,17.0,-5.2,19.6,-6.3,20.2,-7.0,21.0,
-12.0,14.4,-11.5,13.2,-11.0,15.0,-10.4,13.4,-10.0,15.8,-9.6,14.2,-9.2,16.6,-8.8,15.2,-8.4,17.0,-8.0,15.0,-7.7,17.6,-8.3,18.8,-9.0,19.6,-10.3,17.8,-11.2,18.6,-9.7,21.4,-10.8,20.4,
-3.1,20.4,-2.85,19.0,-2.6,17.0,-2.35,15.0,-2.7,24.0,-2.55,21.4];
const topKm3x = [-7.45,-17.0,-7.25,-14.2,-7.15,-19.6,-7.05,-11.4,-6.95,-15.6,-6.85,-17.4,-6.75,-13.0,-6.6,-19.6,-6.55,-15.0,-6.35,-17.0,-6.3,-11.2,-6.15,-14.6,-5.95,-16.2,-5.9,-12.8,-5.7,-14.0,-5.6,-17.8,-5.45,-11.0,-5.35,-15.6,-5.15,-13.2,-5.05,-16.8,-4.95,-10.4,-4.85,-12.2,-4.65,-15.0,-4.6,-9.8,-4.45,-12.8,-4.35,-11.2,-4.15,-14.0,-4.05,-8.4,-3.95,-11.8,-3.85,-14.6,-3.75,-9.4,-3.55,-12.0,-3.45,-10.2,-3.35,-14.0,-3.25,-8.2,-3.15,-11.8,-2.95,-10.6,-2.85,-13.8,-2.65,-10.0,-2.55,-12.8,-2.35,-9.2,-2.25,-11.0,-2.05,-13.6,-1.95,-8.8,-1.8,-11.0,-1.65,-12.6,-1.55,-9.6,-1.48,-13.0,-1.44,-11.8,-2.4,-15.8,-2.15,-14.8,-1.9,-15.6,-2.75,-17.6,-2.6,-20.6,-2.95,-22.6,-3.3,-24.4,-3.9,-17.8,-4.7,-17.0,-5.2,-19.6,-6.3,-20.2,-7.0,-21.0,
-12.0,-14.4,-11.5,-13.2,-11.0,-15.0,-10.4,-13.4,-10.0,-15.8,-9.6,-14.2,-9.2,-16.6,-8.8,-15.2,-8.4,-17.0,-8.0,-15.0,-7.7,-17.6,-8.3,-18.8,-9.0,-19.6,-10.3,-17.8,-11.2,-18.6,-9.7,-21.4,-10.8,-20.4,
-3.1,-20.4,-2.85,-19.0,-2.6,-17.0,-2.35,-15.0,-2.7,-24.0,-2.55,-21.4];

const topK4 = [-21.6,15.4,-18.06,18.3,-17.1,16.8,-15.9,15.8,-14.9,15.3,-14.27,14.9,-13.82,14.5,-13.69,14.1,-13.39,20.8,-12.88,19.6,-7.0,20.0,-6.6,19.0,-6.2,18.2,-5.8,17.3,-5.4,16.5,-5.0,15.6,-4.6,14.6,-4.2,13.6,-3.8,12.5,-3.3,11.6,-7.4,13.9,-7.0,14.4,-6.6,14.9,-5.8,14.4,-5.4,13.8,-5.0,14.6,-4.6,14.0,-4.2,15.4,-3.9,16.2,-2.9,16.5,-2.6,14.2,-2.2,12.6,-1.9,11.3,-1.55,9.8,-1.75,10.8,-2.45,12.0,-2.75,13.2,-3.1,14.0,-1.5,11.8,-1.45,10.4,-2.05,10.2,-2.35,14.8,-1.65,13.0,-2.0,14.0,-1.8,15.6,-2.1,17.2,-2.5,16.6,-8.8,21.2,-8.2,20.4,-7.6,21.6,-10.4,17.0,-9.8,16.0,-11.6,18.2,-3.3,28.5,-3.35,30.0,-9.1,27.0,-8.6,25.0,-8.0,24.0,-14.0,23.0,-13.5,21.8,-12.5,20.0,-11.3,18.2,
-7.3,19.2,-6.9,18.2,-6.4,17.0,-6.0,16.4,-5.6,15.6,-5.2,14.8,-4.8,13.8,-4.4,13.0,-4.0,12.0,-3.6,11.4,-3.4,13.4,-3.6,15.0,-3.3,16.8,-3.1,18.6,-2.8,18.0,-2.3,16.2,-1.9,13.0,-1.6,11.0,-1.45,9.2,-2.6,19.0,-2.85,21.2,-3.0,23.2,-8.0,17.2,-8.6,18.6,-9.2,19.2,-9.9,18.2,-10.9,19.8,-7.4,16.0,-6.8,16.2];
const topKm4 = [-21.6,-15.4,-18.06,-18.3,-17.1,-16.8,-15.9,-15.8,-14.9,-15.3,-14.27,-14.9,-13.82,-14.5,-13.69,-14.1,-13.39,-20.8,-12.88,-19.6,-7.0,-20.0,-6.6,-19.0,-6.2,-18.2,-5.8,-17.3,-5.4,-16.5,-5.0,-15.6,-4.6,-14.6,-4.2,-13.6,-3.8,-12.5,-3.3,-11.6,-7.4,-13.9,-7.0,-14.4,-6.6,-14.9,-5.8,-14.4,-5.4,-13.8,-5.0,-14.6,-4.6,-14.0,-4.2,-15.4,-3.9,-16.2,-2.9,-16.5,-2.6,-14.2,-2.2,-12.6,-1.9,-11.3,-1.55,-9.8,-1.75,-10.8,-2.45,-12.0,-2.75,-13.2,-3.1,-14.0,-1.5,-11.8,-1.45,-10.4,-2.05,-10.2,-2.35,-14.8,-1.65,-13.0,-2.0,-14.0,-1.8,-15.6,-2.1,-17.2,-2.5,-16.6,-8.8,-21.2,-8.2,-20.4,-7.6,-21.6,-10.4,-17.0,-9.8,-16.0,-11.6,-18.2,-3.3,-28.5,-3.35,-30.0,-9.1,-27.0,-8.6,-25.0,-8.0,-24.0,-14.0,-23.0,-13.5,-21.8,-12.5,-20.0,-11.3,-18.2,
-7.3,-19.2,-6.9,-18.2,-6.4,-17.0,-6.0,-16.4,-5.6,-15.6,-5.2,-14.8,-4.8,-13.8,-4.4,-13.0,-4.0,-12.0,-3.6,-11.4,-3.4,-13.4,-3.6,-15.0,-3.3,-16.8,-3.1,-18.6,-2.8,-18.0,-2.3,-16.2,-1.9,-13.0,-1.6,-11.0,-1.45,-9.2,-2.6,-19.0,-2.85,-21.2,-3.0,-23.2,-8.0,-17.2,-8.6,-18.6,-9.2,-19.2,-9.9,-18.2,-10.9,-19.8,-7.4,-16.0,-6.8,-16.2];

const topK5 = [-2.9,25.8,-2.75,24.6,-2.62,22.8,-2.75,22.0,-2.55,21.2,-2.4,20.2,-2.6,20.0,-2.85,19.6,-2.3,19.2,-2.48,18.6,-2.7,18.3,-2.2,18.0,-2.38,17.4,-2.58,17.0,-2.1,16.8,-2.28,16.1,-2.95,17.8,-2.48,15.6,-2.0,15.4,-2.18,14.8,-2.4,14.3,-1.9,14.2,-2.08,13.5,-1.8,12.9,-2.3,13.0,-1.98,12.2,-1.7,11.6,-2.15,11.4,-1.62,10.6,-2.65,15.2,-3.05,21.5,-3.2,19.0,
-3.4,20.7,-3.75,17.3,-3.3,18.5,-3.15,16.0,-3.0,14.5,
-9.19,28.0,-8.96,26.7,-8.74,25.6,-8.54,24.4,-8.28,23.3,-8.35,25.7,-7.89,24.9,-7.57,24.1,-7.89,22.5,-7.5,23.4,-7.1,21.3,-7.3,22.6,-6.9,22.0,-6.72,20.1,-6.5,20.9,-6.33,18.9,-6.1,19.8,-5.94,19.2,-5.55,18.0,-5.7,18.9,-5.16,17.1,-5.3,17.8,-4.77,15.6,-4.9,16.6,-4.38,14.7,-4.5,15.8,-3.98,12.9,-4.1,13.9,-3.59,12.2,-3.07,11.0,-7.5,20.7,-7.24,21.3,
-14.27,23.6,-13.88,22.2,-13.68,22.2,-12.94,21.0,-12.64,19.6,-12.15,20.1,-11.84,18.6,-11.51,19.5,-11.15,19.0,-10.95,18.6,-10.82,17.4,-10.5,16.5,-10.1,16.0,-9.65,15.0,-9.19,14.7,-8.87,14.1,-8.35,14.7,-7.76,13.8,-7.5,13.8,-13.2,21.5,-12.5,20.5,-9.9,16.8,-9.4,15.8,-8.6,15.3,
-18.62,20.0,-3.4,31.5,-3.45,32.6,
-6.2,18.6,-5.8,17.7,-5.4,17.0,-5.0,16.2,-4.6,15.2,-4.2,14.4,-3.8,13.6,-3.4,12.4,-3.25,14.8,-3.5,16.4,-3.6,18.6,-3.25,20.0,-2.95,23.6,-3.15,24.8,-2.5,19.6,-2.2,17.4,-1.95,15.6,-1.75,13.8,-1.55,12.2,-1.45,11.0,-7.7,23.6,-8.1,25.0,-8.5,26.2,-6.8,21.6,-7.2,22.4,-8.0,14.2,-7.0,13.4];
const topKm5 = [-2.9,-25.8,-2.75,-24.6,-2.62,-22.8,-2.75,-22.0,-2.55,-21.2,-2.4,-20.2,-2.6,-20.0,-2.85,-19.6,-2.3,-19.2,-2.48,-18.6,-2.7,-18.3,-2.2,-18.0,-2.38,-17.4,-2.58,-17.0,-2.1,-16.8,-2.28,-16.1,-2.95,-17.8,-2.48,-15.6,-2.0,-15.4,-2.18,-14.8,-2.4,-14.3,-1.9,-14.2,-2.08,-13.5,-1.8,-12.9,-2.3,-13.0,-1.98,-12.2,-1.7,-11.6,-2.15,-11.4,-1.62,-10.6,-2.65,-15.2,-3.05,-21.5,-3.2,-19.0,
-3.4,-20.7,-3.75,-17.3,-3.3,-18.5,-3.15,-16.0,-3.0,-14.5,
-9.19,-28.0,-8.96,-26.7,-8.74,-25.6,-8.54,-24.4,-8.28,-23.3,-8.35,-25.7,-7.89,-24.9,-7.57,-24.1,-7.89,-22.5,-7.5,-23.4,-7.1,-21.3,-7.3,-22.6,-6.9,-22.0,-6.72,-20.1,-6.5,-20.9,-6.33,-18.9,-6.1,-19.8,-5.94,-19.2,-5.55,-18.0,-5.7,-18.9,-5.16,-17.1,-5.3,-17.8,-4.77,-15.6,-4.9,-16.6,-4.38,-14.7,-4.5,-15.8,-3.98,-12.9,-4.1,-13.9,-3.59,-12.2,-3.07,-11.0,-7.5,-20.7,-7.24,-21.3,
-14.27,-23.6,-13.88,-22.2,-13.68,-22.2,-12.94,-21.0,-12.64,-19.6,-12.15,-20.1,-11.84,-18.6,-11.51,-19.5,-11.15,-19.0,-10.95,-18.6,-10.82,-17.4,-10.5,-16.5,-10.1,-16.0,-9.65,-15.0,-9.19,-14.7,-8.87,-14.1,-8.35,-14.7,-7.76,-13.8,-7.5,-13.8,-13.2,-21.5,-12.5,-20.5,-9.9,-16.8,-9.4,-15.8,-8.6,-15.3,
-18.62,-20.0,-3.4,-31.5,-3.45,-32.6,
-6.2,-18.6,-5.8,-17.7,-5.4,-17.0,-5.0,-16.2,-4.6,-15.2,-4.2,-14.4,-3.8,-13.6,-3.4,-12.4,-3.25,-14.8,-3.5,-16.4,-3.6,-18.6,-3.25,-20.0,-2.95,-23.6,-3.15,-24.8,-2.5,-19.6,-2.2,-17.4,-1.95,-15.6,-1.75,-13.8,-1.55,-12.2,-1.45,-11.0,-7.7,-23.6,-8.1,-25.0,-8.5,-26.2,-6.8,-21.6,-7.2,-22.4,-8.0,-14.2,-7.0,-13.4];

const topK6 = [-3.02,27.6,-2.93,26.9,-2.85,26.0,-2.78,25.2,-2.7,24.4,-2.62,23.5,-2.55,22.7,-2.47,21.9,-2.8,26.5,-2.66,25.0,-2.58,24.0,-2.5,23.1,-2.42,22.3,-2.35,21.4,-2.3,20.6,-2.22,19.8,-9.45,29.1,-9.3,28.6,-14.66,25.0,-3.5,33.8];
const topKm6 = [-3.02,-27.6,-2.93,-26.9,-2.85,-26.0,-2.78,-25.2,-2.7,-24.4,-2.62,-23.5,-2.55,-22.7,-2.47,-21.9,-2.8,-26.5,-2.66,-25.0,-2.58,-24.0,-2.5,-23.1,-2.42,-22.3,-2.35,-21.4,-2.3,-20.6,-2.22,-19.8,-9.45,-29.1,-9.3,-28.6,-14.66,-25.0,-3.5,-33.8];
const topK7 = [-3.53,35.0,-3.46,33.9,-3.39,32.8,-3.31,31.8,-3.23,30.7,-3.16,29.9,-3.08,29.0,-3.0,28.2,-2.95,28.8,-9.69,30.4];
const topKm7 = [-3.53,-35.0,-3.46,-33.9,-3.39,-32.8,-3.31,-31.8,-3.23,-30.7,-3.16,-29.9,-3.08,-29.0,-3.0,-28.2,-2.95,-28.8,-9.69,-30.4];
const topK8 = [-3.62,36.0];
const topKm8 = [-3.62,-36.0];

// ---------- g = 1 spectrum ----------
const botK0 = [-299.7,0,-264.8,0,-251.0,0,-240.3,0,-235.1,0,-231.4,0,-223.6,0,-219.1,0,-216.6,0,-210.3,0,-209.6,0,-208.7,0,-200.8,0,-196.5,0,-194.5,0,-192.5,0,-190.3,0,-188.4,0,-185.3,0,-184.0,0,-181.2,0,-179.4,0,-177.2,0,-175.0,0,-172.6,0,-171.0,0,-168.7,0,-166.4,0,-163.9,0,-161.8,0,-159.5,0,-157.6,0,-154.8,0,-152.9,0,-150.3,0,-148.1,0,-146.2,0,-144.0,0,-141.5,0,-139.3,0,-137.1,0,-135.0,0,-132.8,0,-130.6,0,-128.4,0,-126.3,0,-124.0,0,-121.9,0,-119.7,0,-117.5,0,-115.3,0,-113.1,0,-110.9,0,-108.8,0,-106.6,0,-104.4,0,-102.3,0,-100.1,0,-97.9,0,-95.8,0,-93.6,0,-91.4,0,-89.3,0,-87.1,0,-85.0,0,-82.8,0,-80.6,0,-78.5,0,-76.3,0,-74.2,0,-72.0,0,-69.8,0,-67.7,0,-65.5,0,-63.3,0,-61.2,0,-59.0,0,-56.8,0,-54.7,0,-52.5,0,-50.3,0,-48.2,0,-46.0,0,-43.8,0,-41.7,0,-39.5,0,-37.3,0,-35.2,0,-33.0,0,-30.8,0,-28.7,0,-26.5,0,-24.3,0,-22.2,0,-20.0,0,-17.8,0,-15.7,0,-13.5,0,-11.3,0,-9.2,0,-7.0,0,-4.8,0,-2.7,0,-1.0,0,
-49.0,8.0,-49.0,-8.0,-47.3,7.2,-47.3,-7.2,-45.6,6.3,-45.6,-6.3,-43.5,5.4,-43.5,-5.4,-41.6,4.6,-41.6,-4.6,-39.4,3.6,-39.4,-3.6,-37.5,2.8,-37.5,-2.8,-35.6,2.1,-35.6,-2.1,-33.8,1.5,-33.8,-1.5,-32.2,1.0,-32.2,-1.0,
-2.3,2.1,-2.3,-2.1,-3.5,3.0,-3.5,-3.0,-4.9,4.1,-4.9,-4.1,-6.0,5.1,-6.0,-5.1,-7.5,6.4,-7.5,-6.4,-8.5,7.2,-8.5,-7.2,-10.0,8.4,-10.0,-8.4,-11.1,9.4,-11.1,-9.4,-12.6,10.6,-12.6,-10.6,-13.6,11.5,-13.6,-11.5,-15.0,12.6,-15.0,-12.6,-15.7,13.2,-15.7,-13.2,
-60.0,0.6,-60.0,-0.6,-25.0,0.8,-25.0,-0.8,-12.0,0.7,-12.0,-0.7,-5.5,0.6,-5.5,-0.6,
-138.0,0.5,-138.0,-0.5,-128.0,0.5,-128.0,-0.5,-118.0,0.5,-118.0,-0.5,-108.0,0.5,-108.0,-0.5,-98.0,0.5,-98.0,-0.5,-88.0,0.5,-88.0,-0.5,-78.0,0.5,-78.0,-0.5,-68.0,0.5,-68.0,-0.5,-58.0,0.4,-58.0,-0.4,-48.0,0.4,-48.0,-0.4,-38.0,0.4,-38.0,-0.4,-28.0,0.4,-28.0,-0.4,-18.0,0.3,-18.0,-0.3,-8.0,0.3,-8.0,-0.3];

const botK1 = [-295.9,3.65,-260.6,4.24,-247.0,3.8,-236.5,3.65,-229.4,5.6,-227.8,3.6,-220.1,3.4,-214.2,4.7,-213.2,3.4,-206.7,3.3,-204.6,4.5,-196.6,4.2,-191.4,3.9,
-192.5,3.9,-189.5,3.9,-185.0,3.8,-183.5,3.9,-176.7,3.7,-173.7,3.6,-171.5,3.5,-169.2,3.5,-167.0,3.5,-163.2,3.4,-161.7,3.4,-157.2,3.2,-155.7,3.2,-151.2,3.3,-149.7,3.8,-144.5,4.4,-143.0,4.2,-140.7,3.9,-137.7,4.6,-134.7,3.3,-131.7,3.8,-131.0,3.2,-128.6,3.2,-124.9,3.8,-122.7,3.5,-119.7,3.5,-116.6,3.2,-113.6,3.3,-110.6,3.2,-109.1,3.2,-106.1,3.2,-104.6,3.6,-102.4,3.2,-100.1,3.6,-97.1,3.2,-94.1,3.2,-91.1,3.5,-89.6,3.8,-86.5,3.2,-83.5,3.5,-80.5,3.2,-78.3,3.2,
-163.2,5.3,-157.2,5.0,-156.5,4.5,-151.2,5.3,-149.7,4.8,-143.7,4.5,-139.2,4.8,-134.7,4.5,-131.0,5.8,-128.6,5.5,-125.6,5.8,-121.1,5.3,-118.1,5.8,-115.9,5.8,-113.6,5.5,-110.6,5.8,-107.6,5.3,-104.6,5.4,-101.6,5.3,-98.6,4.8,-94.1,4.5,-89.6,4.5,-86.5,4.8,-82.0,4.5,
-186.5,6.6,-176.7,6.1,-170.0,5.8,-137.7,7.7,-133.2,6.8,-128.6,7.0,
-84.0,3.4,-81.5,4.6,-79.0,3.2,-76.5,5.0,-74.0,3.5,-71.6,4.4,-69.0,3.2,-66.7,5.3,-64.2,3.6,-61.8,4.5,-59.2,3.3,-56.8,5.0,-54.3,3.5,-52.0,4.6,-49.5,3.3,-47.0,4.9,-44.6,3.5,-42.2,4.4,-39.7,3.3,-37.3,4.6,-34.8,3.2,-32.5,4.2,-30.0,3.0,-27.6,3.9,-25.1,2.8,-22.8,3.6,-20.3,2.6,-18.0,3.2,-15.5,2.2,-13.1,2.7,-10.7,1.8,-8.4,2.1,-6.0,1.3,-3.8,1.2,-2.0,0.6,-12.7,6.6,-11.5,5.6,-10.3,4.8,-9.0,3.8,
-46.0,-6.2,-41.0,-4.2,-36.5,-2.6,-14.2,-1.8,-12.0,-2.6,-9.5,-3.4,-7.5,-2.0,
-82.5,3.8,-77.8,4.0,-72.8,3.9,-68.0,4.1,-63.0,4.0,-58.0,3.8,-53.0,4.0,-48.2,3.8,-43.2,4.0,-38.5,3.8,-33.6,3.6,-28.8,3.4,-24.0,3.2,-19.2,2.9,-14.4,2.5,-9.6,1.9,-5.0,1.2,-2.8,0.9,-17.0,4.2,-22.0,4.8,-27.0,5.4,-32.0,5.8,-37.0,6.0,-42.0,6.0,-47.0,6.2,-52.0,6.2,-57.0,6.4,-62.0,6.2,-7.0,2.6,-11.5,3.4,-120.0,4.3,-112.0,4.3,-106.0,4.4,-99.0,4.4,-92.0,4.2,-176.0,4.7,-168.0,4.8,-182.0,5.4];
const botKm1 = [-295.9,-3.65,-260.6,-4.24,-247.0,-3.8,-236.5,-3.65,-229.4,-5.6,-227.8,-3.6,-220.1,-3.4,-214.2,-4.7,-213.2,-3.4,-206.7,-3.3,-204.6,-4.5,-196.6,-4.2,-191.4,-3.9,
-192.5,-3.9,-189.5,-3.9,-185.0,-3.8,-183.5,-3.9,-176.7,-3.7,-173.7,-3.6,-171.5,-3.5,-169.2,-3.5,-167.0,-3.5,-163.2,-3.4,-161.7,-3.4,-157.2,-3.2,-155.7,-3.2,-151.2,-3.3,-149.7,-3.8,-144.5,-4.4,-143.0,-4.2,-140.7,-3.9,-137.7,-4.6,-134.7,-3.3,-131.7,-3.8,-131.0,-3.2,-128.6,-3.2,-124.9,-3.8,-122.7,-3.5,-119.7,-3.5,-116.6,-3.2,-113.6,-3.3,-110.6,-3.2,-109.1,-3.2,-106.1,-3.2,-104.6,-3.6,-102.4,-3.2,-100.1,-3.6,-97.1,-3.2,-94.1,-3.2,-91.1,-3.5,-89.6,-3.8,-86.5,-3.2,-83.5,-3.5,-80.5,-3.2,-78.3,-3.2,
-163.2,-5.3,-157.2,-5.0,-156.5,-4.5,-151.2,-5.3,-149.7,-4.8,-143.7,-4.5,-139.2,-4.8,-134.7,-4.5,-131.0,-5.8,-128.6,-5.5,-125.6,-5.8,-121.1,-5.3,-118.1,-5.8,-115.9,-5.8,-113.6,-5.5,-110.6,-5.8,-107.6,-5.3,-104.6,-5.4,-101.6,-5.3,-98.6,-4.8,-94.1,-4.5,-89.6,-4.5,-86.5,-4.8,-82.0,-4.5,
-186.5,-6.6,-176.7,-6.1,-170.0,-5.8,-137.7,-7.7,-133.2,-6.8,-128.6,-7.0,
-84.0,-3.4,-81.5,-4.6,-79.0,-3.2,-76.5,-5.0,-74.0,-3.5,-71.6,-4.4,-69.0,-3.2,-66.7,-5.3,-64.2,-3.6,-61.8,-4.5,-59.2,-3.3,-56.8,-5.0,-54.3,-3.5,-52.0,-4.6,-49.5,-3.3,-47.0,-4.9,-44.6,-3.5,-42.2,-4.4,-39.7,-3.3,-37.3,-4.6,-34.8,-3.2,-32.5,-4.2,-30.0,-3.0,-27.6,-3.9,-25.1,-2.8,-22.8,-3.6,-20.3,-2.6,-18.0,-3.2,-15.5,-2.2,-13.1,-2.7,-10.7,-1.8,-8.4,-2.1,-6.0,-1.3,-3.8,-1.2,-2.0,-0.6,-12.7,-6.6,-11.5,-5.6,-10.3,-4.8,-9.0,-3.8,
-46.0,6.2,-41.0,4.2,-36.5,2.6,-14.2,1.8,-12.0,2.6,-9.5,3.4,-7.5,2.0,
-82.5,-3.8,-77.8,-4.0,-72.8,-3.9,-68.0,-4.1,-63.0,-4.0,-58.0,-3.8,-53.0,-4.0,-48.2,-3.8,-43.2,-4.0,-38.5,-3.8,-33.6,-3.6,-28.8,-3.4,-24.0,-3.2,-19.2,-2.9,-14.4,-2.5,-9.6,-1.9,-5.0,-1.2,-2.8,-0.9,-17.0,-4.2,-22.0,-4.8,-27.0,-5.4,-32.0,-5.8,-37.0,-6.0,-42.0,-6.0,-47.0,-6.2,-52.0,-6.2,-57.0,-6.4,-62.0,-6.2,-7.0,-2.6,-11.5,-3.4,-120.0,-4.3,-112.0,-4.3,-106.0,-4.4,-99.0,-4.4,-92.0,-4.2,-176.0,-4.7,-168.0,-4.8,-182.0,-5.4];

const botK2 = [-285.0,7.4,-247.6,8.7,-235.1,7.9,-225.4,7.6,-217.1,7.3,-212.9,11.2,-209.6,7.1,-202.8,6.9,-199.9,9.7,-196.6,6.7,-191.0,9.1,
-191.8,9.1,-183.5,8.8,-180.5,8.1,-176.7,8.4,-173.7,7.7,-170.7,8.0,-167.0,7.7,-166.2,7.6,-161.0,7.4,-158.7,7.2,-155.0,7.2,-152.0,6.9,-146.7,6.6,-144.5,6.6,-140.7,6.5,
-136.9,9.4,-135.4,9.1,-133.2,8.8,-130.1,8.8,-125.6,8.5,-122.7,8.3,-119.7,8.0,-116.6,7.7,-113.6,7.7,-110.6,7.5,-107.6,7.2,-104.6,6.9,-101.6,6.8,-98.6,6.6,-95.6,6.6,-92.6,6.4,-89.6,6.4,-86.5,6.3,-82.0,6.1,-79.0,5.8,
-148.2,10.8,-141.5,10.3,-140.7,9.5,-146.7,10.0,-155.7,10.8,-150.0,11.6,-145.0,10.9,-138.5,10.1,-133.0,10.4,-128.0,9.9,-122.0,9.7,-117.0,9.4,-112.0,9.2,-106.0,8.9,-100.0,8.7,-94.0,8.4,-88.0,8.2,-82.0,7.9,
-84.5,7.8,-80.0,6.0,-77.5,7.5,-73.0,5.8,-70.5,7.1,-66.0,5.5,-63.5,6.8,-59.0,5.2,-56.5,6.4,-52.0,4.9,-49.5,6.0,-45.0,4.6,-42.5,5.6,-38.0,4.3,-35.5,5.2,-31.0,3.9,-28.5,4.6,-24.0,3.4,-21.5,4.0,-17.0,2.8,-14.5,3.2,-10.0,2.0,-7.5,2.2,-4.0,1.0,
-86.0,10.2,-81.2,9.9,-76.4,9.6,-71.3,9.2,-66.5,8.9,-61.4,8.6,-56.6,8.2,-51.3,7.8,-46.4,7.4,-41.2,6.9,-36.3,6.2,-31.1,5.4,-26.4,4.7,-21.2,3.9,-16.3,3.1,-11.2,2.3,-6.4,1.4,
-130.0,17.5,-120.0,15.7,-110.0,14.2,-100.0,12.7,-80.0,19.8,-70.0,16.8,-60.0,14.0,-50.0,11.4,-40.0,9.0,-30.0,6.7,-20.0,4.5,
-4.5,4.4,-5.6,5.4,-6.7,6.5,-7.8,7.6,-8.9,8.6,-10.0,9.7,-11.1,10.7,-12.2,11.8,-13.3,12.9,-14.4,13.9,-15.5,15.0,-16.6,16.0,-17.7,17.1,-18.6,18.0,
-83.0,8.9,-78.0,8.6,-73.0,8.2,-68.0,7.9,-63.0,7.5,-58.0,7.2,-53.0,6.8,-48.0,6.4,-43.0,6.0,-38.0,5.6,-33.0,5.2,-28.0,4.8,-23.0,4.4,-18.5,3.8,-13.5,3.0,-8.5,2.0,-3.0,0.9,-76.0,12.0,-66.0,10.8,-56.0,9.6,-46.0,8.6,-36.0,7.6,-26.0,6.2,-16.0,4.6,-9.0,3.0,-70.0,13.0,-60.0,11.8,-50.0,10.4,-42.0,9.6,-34.0,8.0,-24.0,5.8,-14.0,3.8,-103.0,8.0,-97.0,7.8,-91.0,7.4,-85.0,7.0,-160.0,9.4,-170.0,9.8,-180.0,10.2,-186.0,10.6,-175.0,11.6];
const botKm2 = [-285.0,-7.4,-247.6,-8.7,-235.1,-7.9,-225.4,-7.6,-217.1,-7.3,-212.9,-11.2,-209.6,-7.1,-202.8,-6.9,-199.9,-9.7,-196.6,-6.7,-191.0,-9.1,
-191.8,-9.1,-183.5,-8.8,-180.5,-8.1,-176.7,-8.4,-173.7,-7.7,-170.7,-8.0,-167.0,-7.7,-166.2,-7.6,-161.0,-7.4,-158.7,-7.2,-155.0,-7.2,-152.0,-6.9,-146.7,-6.6,-144.5,-6.6,-140.7,-6.5,
-136.9,-9.4,-135.4,-9.1,-133.2,-8.8,-130.1,-8.8,-125.6,-8.5,-122.7,-8.3,-119.7,-8.0,-116.6,-7.7,-113.6,-7.7,-110.6,-7.5,-107.6,-7.2,-104.6,-6.9,-101.6,-6.8,-98.6,-6.6,-95.6,-6.6,-92.6,-6.4,-89.6,-6.4,-86.5,-6.3,-82.0,-6.1,-79.0,-5.8,
-148.2,-10.8,-141.5,-10.3,-140.7,-9.5,-146.7,-10.0,-155.7,-10.8,-150.0,-11.6,-145.0,-10.9,-138.5,-10.1,-133.0,-10.4,-128.0,-9.9,-122.0,-9.7,-117.0,-9.4,-112.0,-9.2,-106.0,-8.9,-100.0,-8.7,-94.0,-8.4,-88.0,-8.2,-82.0,-7.9,
-84.5,-7.8,-80.0,-6.0,-77.5,-7.5,-73.0,-5.8,-70.5,-7.1,-66.0,-5.5,-63.5,-6.8,-59.0,-5.2,-56.5,-6.4,-52.0,-4.9,-49.5,-6.0,-45.0,-4.6,-42.5,-5.6,-38.0,-4.3,-35.5,-5.2,-31.0,-3.9,-28.5,-4.6,-24.0,-3.4,-21.5,-4.0,-17.0,-2.8,-14.5,-3.2,-10.0,-2.0,-7.5,-2.2,-4.0,-1.0,
-86.0,-10.2,-81.2,-9.9,-76.4,-9.6,-71.3,-9.2,-66.5,-8.9,-61.4,-8.6,-56.6,-8.2,-51.3,-7.8,-46.4,-7.4,-41.2,-6.9,-36.3,-6.2,-31.1,-5.4,-26.4,-4.7,-21.2,-3.9,-16.3,-3.1,-11.2,-2.3,-6.4,-1.4,
-130.0,-17.5,-120.0,-15.7,-110.0,-14.2,-100.0,-12.7,-80.0,-19.8,-70.0,-16.8,-60.0,-14.0,-50.0,-11.4,-40.0,-9.0,-30.0,-6.7,-20.0,-4.5,
-4.5,-4.4,-5.6,-5.4,-6.7,-6.5,-7.8,-7.6,-8.9,-8.6,-10.0,-9.7,-11.1,-10.7,-12.2,-11.8,-13.3,-12.9,-14.4,-13.9,-15.5,-15.0,-16.6,-16.0,-17.7,-17.1,-18.6,-18.0,
-83.0,-8.9,-78.0,-8.6,-73.0,-8.2,-68.0,-7.9,-63.0,-7.5,-58.0,-7.2,-53.0,-6.8,-48.0,-6.4,-43.0,-6.0,-38.0,-5.6,-33.0,-5.2,-28.0,-4.8,-23.0,-4.4,-18.5,-3.8,-13.5,-3.0,-8.5,-2.0,-3.0,-0.9,-76.0,-12.0,-66.0,-10.8,-56.0,-9.6,-46.0,-8.6,-36.0,-7.6,-26.0,-6.2,-16.0,-4.6,-9.0,-3.0,-70.0,-13.0,-60.0,-11.8,-50.0,-10.4,-42.0,-9.6,-34.0,-8.0,-24.0,-5.8,-14.0,-3.8,-103.0,-8.0,-97.0,-7.8,-91.0,-7.4,-85.0,-7.0,-160.0,-9.4,-170.0,-9.8,-180.0,-10.2,-186.0,-10.6,-175.0,-11.6];

const botK3 = [-266.1,11.4,-225.4,13.4,-214.8,12.4,-206.1,11.8,-198.4,11.2,-191.6,10.9,
-175.3,15.1,-167.7,14.1,-160.9,13.6,-158.7,12.9,-154.2,12.4,-150.4,12.6,-148.2,12.1,-146.7,11.8,-134.7,10.8,-129.4,10.6,-123.4,10.0,-118.9,9.6,-113.6,9.4,-108.4,9.1,
-133.9,19.2,-127.6,17.8,-121.1,16.7,-116.6,15.6,-112.1,14.8,-107.6,14.0,-104.6,13.4,-101.6,13.0,-98.6,12.6,-95.6,12.1,-92.6,11.5,-89.6,11.3,-86.5,11.0,-83.5,10.7,-80.5,10.4,-77.5,10.2,
-74.5,9.9,-69.8,9.3,-64.6,8.6,-59.9,8.0,-54.7,7.3,-49.8,6.6,
-91.2,24.5,-86.0,22.9,-81.3,21.5,-76.1,19.9,-71.5,18.4,-66.2,16.9,-61.6,15.4,-56.4,14.0,-51.9,12.7,-46.7,11.3,-42.1,10.1,-36.9,8.8,-32.3,7.7,-27.0,6.5,-22.4,5.4,-17.1,4.2,-12.6,3.2,-8.0,2.1,-88.5,23.0,-78.7,20.0,-68.9,17.0,-59.0,14.2,-49.2,11.5,-39.4,9.0,-29.6,6.7,-19.8,4.5,-10.3,2.6,
-8.4,9.2,-7.6,8.2,-6.8,7.3,-6.0,6.4,-5.2,5.5,-4.4,4.5,-3.6,3.6,-2.8,2.8,-2.0,2.0,
-19.4,18.8,-20.5,19.8,-21.6,20.9,-22.7,21.9,-23.8,23.0,-24.9,24.0,
-84.0,12.8,-79.0,12.4,-74.0,12.0,-69.0,11.4,-64.0,10.8,-59.0,10.2,-54.0,9.6,-49.0,8.8,-44.0,8.0,-39.0,7.2,-34.0,6.4,-29.0,5.6,-24.0,4.8,-19.0,4.0,-14.0,3.2,-9.0,2.4,-5.0,1.6,-94.0,25.6,-83.0,21.8,-73.0,18.8,-63.0,15.8,-53.0,13.0,-44.0,10.6,-34.0,8.2,-24.0,5.9,-14.0,3.6,-140.0,20.0,-125.0,17.0,-110.0,14.4,-97.0,12.4];
const botKm3 = [-266.1,-11.4,-225.4,-13.4,-214.8,-12.4,-206.1,-11.8,-198.4,-11.2,-191.6,-10.9,
-175.3,-15.1,-167.7,-14.1,-160.9,-13.6,-158.7,-12.9,-154.2,-12.4,-150.4,-12.6,-148.2,-12.1,-146.7,-11.8,-134.7,-10.8,-129.4,-10.6,-123.4,-10.0,-118.9,-9.6,-113.6,-9.4,-108.4,-9.1,
-133.9,-19.2,-127.6,-17.8,-121.1,-16.7,-116.6,-15.6,-112.1,-14.8,-107.6,-14.0,-104.6,-13.4,-101.6,-13.0,-98.6,-12.6,-95.6,-12.1,-92.6,-11.5,-89.6,-11.3,-86.5,-11.0,-83.5,-10.7,-80.5,-10.4,-77.5,-10.2,
-74.5,-9.9,-69.8,-9.3,-64.6,-8.6,-59.9,-8.0,-54.7,-7.3,-49.8,-6.6,
-91.2,-24.5,-86.0,-22.9,-81.3,-21.5,-76.1,-19.9,-71.5,-18.4,-66.2,-16.9,-61.6,-15.4,-56.4,-14.0,-51.9,-12.7,-46.7,-11.3,-42.1,-10.1,-36.9,-8.8,-32.3,-7.7,-27.0,-6.5,-22.4,-5.4,-17.1,-4.2,-12.6,-3.2,-8.0,-2.1,-88.5,-23.0,-78.7,-20.0,-68.9,-17.0,-59.0,-14.2,-49.2,-11.5,-39.4,-9.0,-29.6,-6.7,-19.8,-4.5,-10.3,-2.6,
-8.4,-9.2,-7.6,-8.2,-6.8,-7.3,-6.0,-6.4,-5.2,-5.5,-4.4,-4.5,-3.6,-3.6,-2.8,-2.8,-2.0,-2.0,
-19.4,-18.8,-20.5,-19.8,-21.6,-20.9,-22.7,-21.9,-23.8,-23.0,-24.9,-24.0,
-84.0,-12.8,-79.0,-12.4,-74.0,-12.0,-69.0,-11.4,-64.0,-10.8,-59.0,-10.2,-54.0,-9.6,-49.0,-8.8,-44.0,-8.0,-39.0,-7.2,-34.0,-6.4,-29.0,-5.6,-24.0,-4.8,-19.0,-4.0,-14.0,-3.2,-9.0,-2.4,-5.0,-1.6,-94.0,-25.6,-83.0,-21.8,-73.0,-18.8,-63.0,-15.8,-53.0,-13.0,-44.0,-10.6,-34.0,-8.2,-24.0,-5.9,-14.0,-3.6,-140.0,-20.0,-125.0,-17.0,-110.0,-14.4,-97.0,-12.4];

const botK4 = [-239.1,15.7,-193.5,18.3,-185.5,17.1,-177.9,16.3,-171.5,15.6,-165.5,15.2,-160.2,14.6,-155.0,14.3,-139.0,20.6,-129.0,19.1,-119.5,17.4,-111.0,15.9,-102.0,14.5,-93.5,13.2,-85.0,12.0,-80.0,11.6,-77.0,11.6,-72.5,11.0,-47.0,13.5,-43.5,12.3,-40.0,11.1,-13.0,13.6,-12.0,12.4,-11.0,11.6,-10.0,10.6,-9.0,9.6,-25.8,25.0,-26.8,26.0,-27.6,26.8,
-88.0,24.0,-82.0,22.0,-76.0,20.2,-70.0,18.4,-64.0,16.6,-58.0,15.0,-52.0,13.4,-46.0,12.0,-36.0,9.4,-31.0,8.2,-26.0,7.0,-21.0,5.8,-145.0,21.0,-135.0,19.4,-125.0,17.8,-115.0,16.2,-105.0,14.8,-96.0,13.6,-88.0,12.6];
const botKm4 = [-239.1,-15.7,-193.5,-18.3,-185.5,-17.1,-177.9,-16.3,-171.5,-15.6,-165.5,-15.2,-160.2,-14.6,-155.0,-14.3,-139.0,-20.6,-129.0,-19.1,-119.5,-17.4,-111.0,-15.9,-102.0,-14.5,-93.5,-13.2,-85.0,-12.0,-80.0,-11.6,-77.0,-11.6,-72.5,-11.0,-47.0,-13.5,-43.5,-12.3,-40.0,-11.1,-13.0,-13.6,-12.0,-12.4,-11.0,-11.6,-10.0,-10.6,-9.0,-9.6,-25.8,-25.0,-26.8,-26.0,-27.6,-26.8,
-88.0,-24.0,-82.0,-22.0,-76.0,-20.2,-70.0,-18.4,-64.0,-16.6,-58.0,-15.0,-52.0,-13.4,-46.0,-12.0,-36.0,-9.4,-31.0,-8.2,-26.0,-7.0,-21.0,-5.8,-145.0,-21.0,-135.0,-19.4,-125.0,-17.8,-115.0,-16.2,-105.0,-14.8,-96.0,-13.6,-88.0,-12.6];

const botK5 = [-203.1,20.2,-151.5,23.5,-145.9,22.3,-140.3,21.3,-139.2,20.8,-137.5,21.0,-134.6,20.5,-130.5,19.8,-129.0,18.9,-128.6,18.4,-126.3,19.2,-124.0,18.9,-121.8,18.6,-118.8,16.9,-116.6,16.7,-113.5,15.9,-109.0,15.6,-103.8,14.8,-100.0,14.1,-95.5,13.6,-91.0,13.1,-86.5,12.5,-82.7,12.3,
-92.0,26.6,-88.7,25.6,-85.7,24.3,-82.7,23.2,-80.4,22.6,-86.5,24.9,-83.5,24.0,-80.5,23.2,-77.5,22.2,-74.4,21.1,-71.4,20.0,-68.4,18.9,-65.4,18.1,-62.4,17.3,-59.3,16.4,-56.3,15.6,-53.3,14.8,-50.3,14.0,-47.3,12.9,-44.3,11.8,-39.8,11.0,-89.6,24.9,
-20.2,18.9,-19.5,18.5,-18.7,17.9,-17.9,17.2,-17.0,16.5,-16.2,15.9,-15.7,15.6,-15.4,15.2,-14.6,14.6,-13.8,14.0,-12.7,13.4,
-28.4,27.6,-29.3,28.4,-30.2,29.3,-31.1,30.1,
-90.4,25.9,-84.2,23.6,-78.9,21.7,-72.9,19.6,-66.9,17.6,-60.8,15.9,-54.8,14.2,-48.8,12.5,-42.0,11.4,-148.0,22.6,-143.0,21.8,-132.0,20.0,-120.0,18.0,-111.0,16.4,-106.0,15.4,-98.0,14.0,-93.0,13.4,-88.5,12.8];
const botKm5 = [-203.1,-20.2,-151.5,-23.5,-145.9,-22.3,-140.3,-21.3,-139.2,-20.8,-137.5,-21.0,-134.6,-20.5,-130.5,-19.8,-129.0,-18.9,-128.6,-18.4,-126.3,-19.2,-124.0,-18.9,-121.8,-18.6,-118.8,-16.9,-116.6,-16.7,-113.5,-15.9,-109.0,-15.6,-103.8,-14.8,-100.0,-14.1,-95.5,-13.6,-91.0,-13.1,-86.5,-12.5,-82.7,-12.3,
-92.0,-26.6,-88.7,-25.6,-85.7,-24.3,-82.7,-23.2,-80.4,-22.6,-86.5,-24.9,-83.5,-24.0,-80.5,-23.2,-77.5,-22.2,-74.4,-21.1,-71.4,-20.0,-68.4,-18.9,-65.4,-18.1,-62.4,-17.3,-59.3,-16.4,-56.3,-15.6,-53.3,-14.8,-50.3,-14.0,-47.3,-12.9,-44.3,-11.8,-39.8,-11.0,-89.6,-24.9,
-20.2,-18.9,-19.5,-18.5,-18.7,-17.9,-17.9,-17.2,-17.0,-16.5,-16.2,-15.9,-15.7,-15.6,-15.4,-15.2,-14.6,-14.6,-13.8,-14.0,-12.7,-13.4,
-28.4,-27.6,-29.3,-28.4,-30.2,-29.3,-31.1,-30.1,
-90.4,-25.9,-84.2,-23.6,-78.9,-21.7,-72.9,-19.6,-66.9,-17.6,-60.8,-15.9,-54.8,-14.2,-48.8,-12.5,-42.0,-11.4,-148.0,-22.6,-143.0,-21.8,-132.0,-20.0,-120.0,-18.0,-111.0,-16.4,-106.0,-15.4,-98.0,-14.0,-93.0,-13.4,-88.5,-12.8];

const botK6 = [-157.9,25.0,-99.0,28.9,-97.3,28.4,-95.5,27.7,-26.0,25.6,-25.3,24.8,-24.6,24.1,-23.9,23.2,-23.3,22.2,-22.5,21.6,-21.8,20.9,-21.1,20.1,-20.4,19.4,-32.0,31.0,-32.9,31.9,-33.6,32.6];
const botKm6 = [-157.9,-25.0,-99.0,-28.9,-97.3,-28.4,-95.5,-27.7,-26.0,-25.6,-25.3,-24.8,-24.6,-24.1,-23.9,-23.2,-23.3,-22.2,-22.5,-21.6,-21.8,-20.9,-21.1,-20.1,-20.4,-19.4,-32.0,-31.0,-32.9,-31.9,-33.6,-32.6];
const botK7 = [-102.3,30.3,-35.3,35.2,-34.5,34.3,-33.8,33.5,-33.2,32.8,-32.6,32.1,-31.8,31.3,-31.2,30.6,-30.5,29.9,-29.9,29.2,-29.2,28.6,-28.6,27.9,-27.9,27.3,-27.2,26.7,-26.5,26.1];
const botKm7 = [-102.3,-30.3,-35.3,-35.2,-34.5,-34.3,-33.8,-33.5,-33.2,-32.8,-32.6,-32.1,-31.8,-31.3,-31.2,-30.6,-30.5,-29.9,-29.9,-29.2,-29.2,-28.6,-28.6,-27.9,-27.9,-27.3,-27.2,-26.7,-26.5,-26.1];
const botK8 = [-36.0,35.8];
const botKm8 = [-36.0,-35.8];

// ---------- helpers ----------
const FONT = '"Liberation Serif", "DejaVu Serif", serif';
const fmt = (v: number) => (v < 0 ? "\u2212" + Math.abs(v) : String(v));

function toPts(a: number[]) {
  const out: { x: number; y: number }[] = [];
  for (let i = 0; i + 1 < a.length; i += 2) out.push({ x: a[i], y: a[i + 1] });
  return out;
}

const topSets: [number, number[]][] = [
  [8, topK8], [7, topK7], [6, topK6], [5, topK5], [4, topK4], [3, topK3.concat(topK3x)], [2, topK2.concat(topK2x)], [1, topK1.concat(topK1x)], [0, topK0.concat(topK0x)],
  [-1, topKm1.concat(topKm1x)], [-2, topKm2.concat(topKm2x)], [-3, topKm3.concat(topKm3x)], [-4, topKm4], [-5, topKm5], [-6, topKm6], [-7, topKm7], [-8, topKm8],
];
const botSets: [number, number[]][] = [
  [8, botK8], [7, botK7], [6, botK6], [5, botK5], [4, botK4], [3, botK3], [2, botK2], [1, botK1], [0, botK0],
  [-1, botKm1], [-2, botKm2], [-3, botKm3], [-4, botKm4], [-5, botKm5], [-6, botKm6], [-7, botKm7], [-8, botKm8],
];

function decoPlugin(xTicks: number[], yT: number[], label: string, dx: number, dy: number) {
  return {
    id: "deco",
    afterDraw(chart: any) {
      const { ctx, chartArea: a, scales } = chart;
      ctx.save();
      ctx.strokeStyle = "#000";
      ctx.lineWidth = 2;
      const L = 10;
      ctx.beginPath();
      for (const v of xTicks) {
        const p = scales.x.getPixelForValue(v);
        ctx.moveTo(p, a.bottom);
        ctx.lineTo(p, a.bottom - L);
        ctx.moveTo(p, a.top);
        ctx.lineTo(p, a.top + L);
      }
      for (const v of yT) {
        const p = scales.y.getPixelForValue(v);
        ctx.moveTo(a.left, p);
        ctx.lineTo(a.left + L, p);
        ctx.moveTo(a.right, p);
        ctx.lineTo(a.right - L, p);
      }
      ctx.stroke();
      ctx.strokeRect(a.left, a.top, a.right - a.left, a.bottom - a.top);
      ctx.fillStyle = "#000";
      ctx.font = `32px ${FONT}`;
      ctx.textBaseline = "alphabetic";
      ctx.textAlign = "left";
      ctx.fillText(label, a.left + dx, a.top + dy);
      ctx.restore();
    },
  };
}

function panelConfig(o: {
  sets: [number, number[]][];
  xRange: number[];
  xTicks: number[];
  label: string;
  dx: number;
  dy: number;
  padTop: number;
  xAxisH: number;
  titlePadBottom: number;
  gapLine?: number;
}) {
  const datasets: any[] = [];
  datasets.push({
    data: [{ x: steadyState[0], y: steadyState[1] }],
    pointStyle: "crossRot",
    pointRadius: 4.5,
    pointBorderWidth: 2.6,
    pointBorderColor: "#000",
    pointBackgroundColor: "#000",
  });
  if (o.gapLine !== undefined) {
    datasets.push({
      data: [{ x: o.gapLine, y: yRange[0] }, { x: o.gapLine, y: yRange[1] }],
      showLine: true,
      borderColor: "#000",
      borderWidth: 2,
      borderDash: [2.5, 3.5],
      pointRadius: 0,
    });
  }
  for (const [k, arr] of o.sets) {
    const c = kColors[k + 8];
    datasets.push({
      data: toPts(arr),
      pointRadius: 2.7,
      pointHoverRadius: 2.7,
      pointBorderWidth: 0,
      borderWidth: 0,
      pointBackgroundColor: c,
      backgroundColor: c,
    });
  }
  const tickFont = { family: FONT, size: 32 };
  return {
    type: "scatter",
    data: { datasets },
    options: {
      animation: false,
      responsive: false,
      events: [],
      layout: { padding: { top: o.padTop, right: 4, bottom: 0, left: 0 } },
      plugins: { legend: { display: false }, tooltip: { enabled: false } },
      scales: {
        x: {
          type: "linear",
          min: o.xRange[0],
          max: o.xRange[1],
          afterBuildTicks: (s: any) => {
            s.ticks = o.xTicks.map((v) => ({ value: v }));
          },
          afterFit: (s: any) => {
            s.height = o.xAxisH;
          },
          grid: { display: false, drawTicks: false },
          border: { display: false },
          ticks: { color: "#000", font: tickFont, padding: 10, maxRotation: 0, autoSkip: false, callback: (v: any) => fmt(Number(v)) },
          title: { display: true, text: "ℜ(γ)", color: "#000", font: tickFont, padding: { top: 0, bottom: o.titlePadBottom } },
        },
        y: {
          type: "linear",
          min: yRange[0],
          max: yRange[1],
          afterBuildTicks: (s: any) => {
            s.ticks = yTicks.map((v) => ({ value: v }));
          },
          afterFit: (s: any) => {
            s.width = 93;
          },
          grid: { display: false, drawTicks: false },
          border: { display: false },
          ticks: { color: "#000", font: tickFont, padding: 12, autoSkip: false, callback: (v: any) => fmt(Number(v)) },
          title: { display: true, text: "ℑ(γ)", color: "#000", font: tickFont, padding: { top: 1, bottom: 0 } },
        },
      },
    },
    plugins: [decoPlugin(o.xTicks, yTicks, o.label, o.dx, o.dy)],
  };
}

function colorbarConfig() {
  return {
    type: "bar",
    data: {
      datasets: [
        {
          data: kValues.map((k) => ({ x: k, y: 1 })),
          backgroundColor: kColors,
          borderWidth: 0,
          barPercentage: 1,
          categoryPercentage: 1,
        },
      ],
    },
    options: {
      animation: false,
      responsive: false,
      events: [],
      layout: { padding: { top: 0, right: 4, bottom: 8, left: 93 } },
      plugins: { legend: { display: false }, tooltip: { enabled: false } },
      scales: {
        x: {
          type: "linear",
          position: "top",
          min: -8.5,
          max: 8.5,
          offset: false,
          afterBuildTicks: (s: any) => {
            s.ticks = colorbarTicks.map((v) => ({ value: v }));
          },
          afterFit: (s: any) => {
            s.height = 38;
          },
          grid: { display: false, drawTicks: false, offset: false },
          border: { display: false },
          ticks: { color: "#000", font: { family: FONT, size: 26 }, padding: 7, maxRotation: 0, autoSkip: false, callback: (v: any) => fmt(Number(v)) },
        },
        y: { display: false, min: 0, max: 1 },
      },
    },
    plugins: [
      {
        id: "cbdeco",
        afterDraw(chart: any) {
          const { ctx, chartArea: a, scales } = chart;
          ctx.save();
          ctx.strokeStyle = "#000";
          ctx.lineWidth = 2;
          ctx.beginPath();
          for (const v of colorbarTicks) {
            const p = scales.x.getPixelForValue(v);
            ctx.moveTo(p, a.top);
            ctx.lineTo(p, a.top + 10);
          }
          ctx.stroke();
          ctx.strokeRect(a.left, a.top, a.right - a.left, a.bottom - a.top);
          ctx.restore();
        },
      },
    ],
  };
}

export default function App() {
  const cbRef = useRef<HTMLCanvasElement>(null);
  const topRef = useRef<HTMLCanvasElement>(null);
  const botRef = useRef<HTMLCanvasElement>(null);

  useEffect(() => {
    const charts = [
      new Chart(cbRef.current as HTMLCanvasElement, colorbarConfig() as any),
      new Chart(
        topRef.current as HTMLCanvasElement,
        panelConfig({ sets: topSets, xRange: topXRange, xTicks: topXTicks, label: topLabel, dx: 20, dy: 44, padTop: 16, xAxisH: 87.3, titlePadBottom: 1, gapLine: topGapLine }) as any
      ),
      new Chart(
        botRef.current as HTMLCanvasElement,
        panelConfig({ sets: botSets, xRange: bottomXRange, xTicks: bottomXTicks, label: bottomLabel, dx: 34, dy: 50, padTop: 27, xAxisH: 92.5, titlePadBottom: 0 }) as any
      ),
    ];
    return () => charts.forEach((c) => c.destroy());
  }, []);

  return (
    <div style={{ position: "absolute", left: 0, top: 0, width: 830, height: 1214, background: "#fff", overflow: "hidden" }}>
      <canvas ref={cbRef} width={830} height={70} style={{ position: "absolute", left: 0, top: 0, width: 830, height: 70 }} />
      <canvas ref={topRef} width={830} height={540} style={{ position: "absolute", left: 0, top: 70, width: 830, height: 540 }} />
      <canvas ref={botRef} width={830} height={604} style={{ position: "absolute", left: 0, top: 610, width: 830, height: 604 }} />
    </div>
  );
}
